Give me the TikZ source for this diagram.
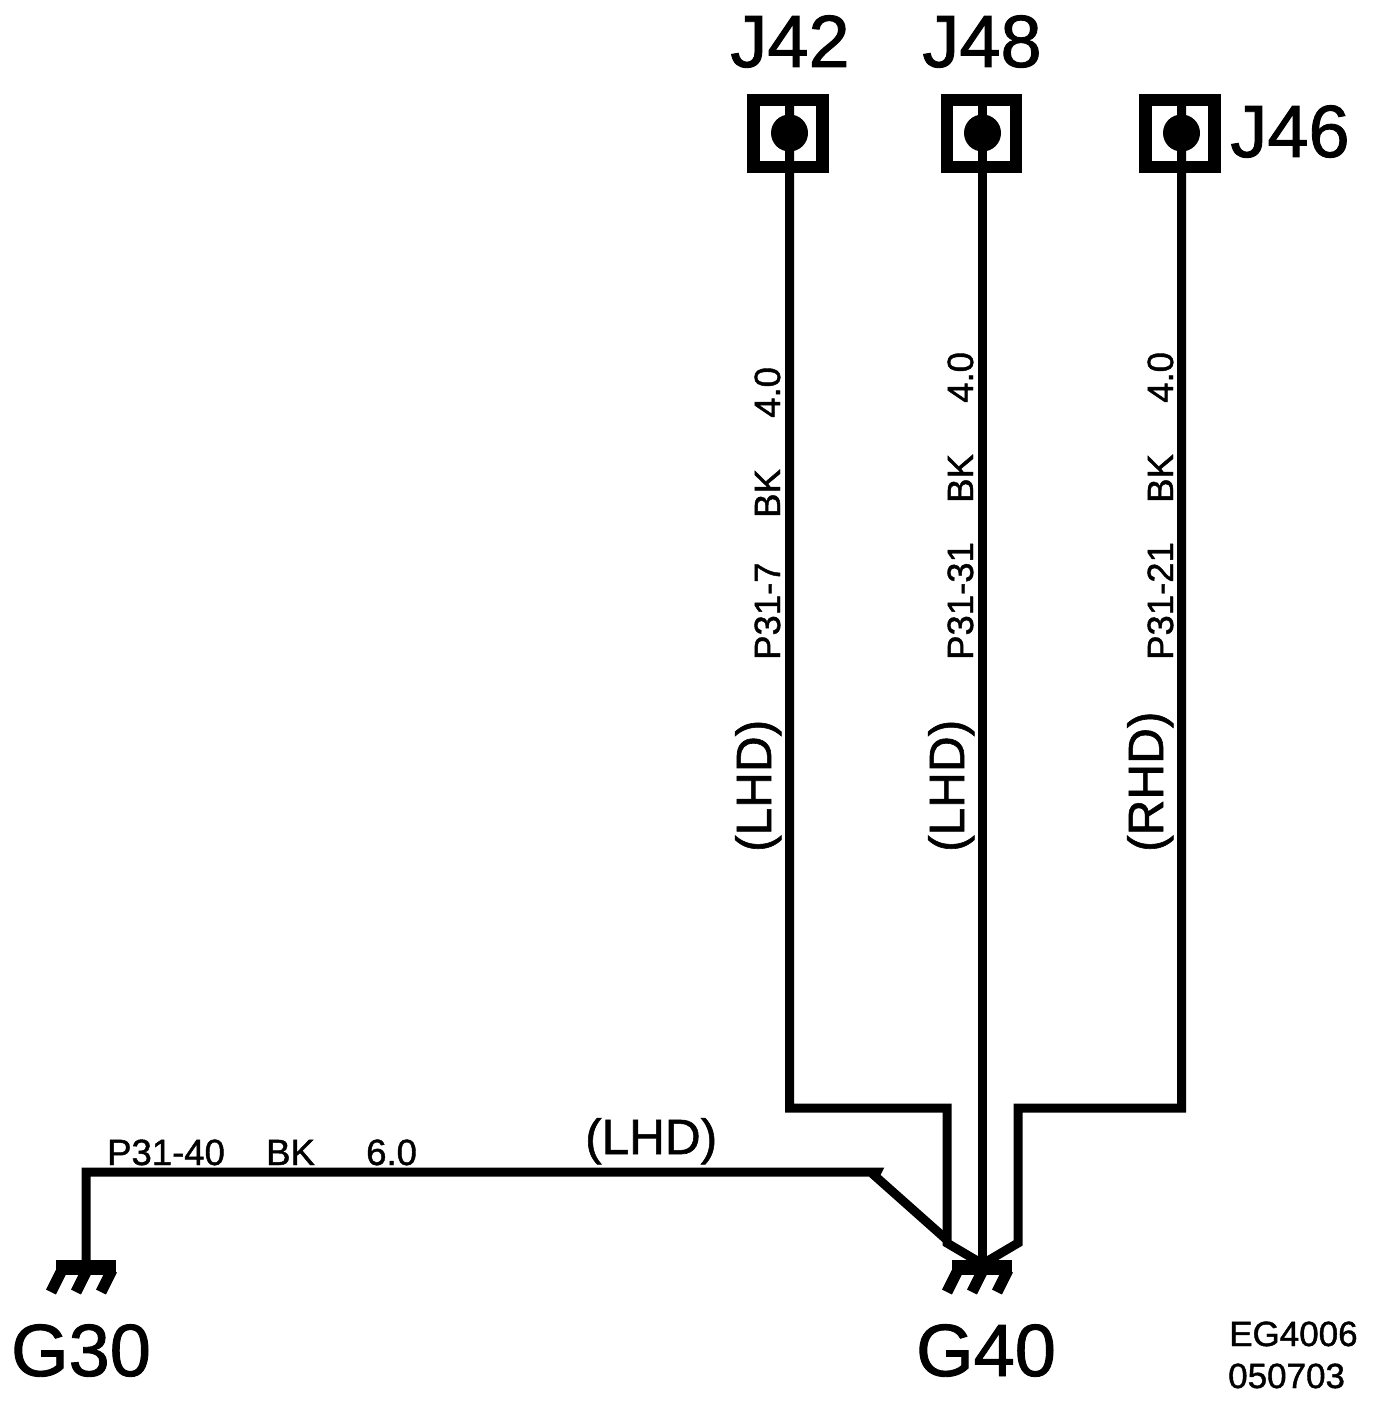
\documentclass[tikz,border=0pt]{standalone}
\usepackage{fontspec}
\setmainfont[FakeBold=1.2]{Liberation Sans}
\usetikzlibrary{positioning}

\begin{document}
\begin{tikzpicture}[
    x=1pt,
    y=-1pt,
    wire/.style={
        line width=9pt,
        line join=miter,
        black
    },
    jack/.style={
        rectangle,
        draw=black,
        line width=12.5pt,
        minimum width=69pt,
        minimum height=67pt,
        inner sep=0pt,
        outer sep=0pt
    },
    pindot/.style={
        circle,
        fill=black,
        minimum size=37pt,
        inner sep=0pt
    },
    gbar/.style={
        rectangle,
        fill=black,
        minimum width=60pt,
        minimum height=15pt,
        inner sep=0pt,
        outer sep=0pt
    },
    tooth/.style={
        line width=11pt,
        black
    },
    bigtag/.style={
        font=\fontsize{74}{74}\selectfont,
        inner sep=0pt,
        anchor=base
    },
    wirelabel/.style={
        font=\fontsize{36.5}{36.5}\selectfont,
        inner sep=0pt,
        anchor=base west,
        rotate=90
    },
    optlabel/.style={
        font=\fontsize{49.5}{49.5}\selectfont,
        inner sep=0pt,
        anchor=base west,
        rotate=90
    },
    runlabel/.style={
        font=\fontsize{36.5}{36.5}\selectfont,
        inner sep=0pt,
        anchor=base west
    }
]
\useasboundingbox (0,0) rectangle (1376,1410);

% Jacks
\node[jack] (j42) at (788,133.5) {};
\node[jack] (j48) at (981.5,133.5) {};
\node[jack] (j46) at (1180,133.5) {};
\node[pindot] (j42dot) at (789.5,133) {};
\node[pindot] (j48dot) at (982.5,133) {};
\node[pindot] (j46dot) at (1181.5,133) {};

% Jack names
\node[bigtag] (j42tag) at (790,67) {J42};
\node[bigtag] (j48tag) at (982,67) {J48};
\node[bigtag] (j46tag) at (1290,157) {J46};

% Grounds
\node[gbar] (g30) at (86,1267.5) {};
\node[gbar] (g40) at (982,1267.5) {};
\node[bigtag] (g30tag) at (81,1376) {G30};
\node[bigtag] (g40tag) at (986,1376) {G40};
\foreach \gnd/\gx in {g30/86,g40/982} {
    \foreach \dx in {-25,0,25} {
        \draw[tooth] (\gx+\dx+1,1270) -- (\gx+\dx-10,1292);
    }
}

% Bend points
\coordinate (j42top) at (789.5,100);
\coordinate (j48top) at (982.5,100);
\coordinate (j46top) at (1181.5,100);
\coordinate (j42a) at (789.5,1108);
\coordinate (j42b) at (947,1108);
\coordinate (j42c) at (947,1243);
\coordinate (j46a) at (1181.5,1108);
\coordinate (j46b) at (1018,1108);
\coordinate (j46c) at (1018,1243);
\coordinate (g40top) at (982.5,1264);
\coordinate (lhda) at (86,1172);
\coordinate (lhdb) at (877,1172);
\coordinate (lhdc) at (875,1176);
\coordinate (lhdd) at (947,1240);

% Wires
\draw[wire] (j42top) -- (j42a) -- (j42b) -- (j42c) -- (g40top);
\draw[wire] (j48top) -- (g40top);
\draw[wire] (j46top) -- (j46a) -- (j46b) -- (j46c) -- (g40top);
\draw[wire] (g30) -- (lhda) -- (lhdb) -- (lhdc) -- (lhdd);

% Wire labels
\node[wirelabel] (w1a) at (780,660) {P31-7};
\node[wirelabel] (w1b) at (780,518) {BK};
\node[wirelabel] (w1c) at (780,418) {4.0};
\node[optlabel] (w1d) at (771,852) {(LHD)};

\node[wirelabel] (w2a) at (973,660) {P31-31};
\node[wirelabel] (w2b) at (973,503) {BK};
\node[wirelabel] (w2c) at (973,403) {4.0};
\node[optlabel] (w2d) at (964,852) {(LHD)};

\node[wirelabel] (w3a) at (1173,660) {P31-21};
\node[wirelabel] (w3b) at (1173,503) {BK};
\node[wirelabel] (w3c) at (1173,403) {4.0};
\node[optlabel] (w3d) at (1163,852) {(RHD)};

\node[runlabel] (w4a) at (107,1165) {P31-40};
\node[runlabel] (w4b) at (266,1165) {BK};
\node[runlabel] (w4c) at (366,1165) {6.0};
\node[optlabel, rotate=-90] (w4d) at (585,1154) {(LHD)};

% Drawing number
\node[runlabel, font=\fontsize{35}{35}\selectfont] (code) at (1229,1346) {EG4006};
\node[runlabel, font=\fontsize{35}{35}\selectfont] (date) at (1228,1388) {050703};

\end{tikzpicture}
\end{document}
